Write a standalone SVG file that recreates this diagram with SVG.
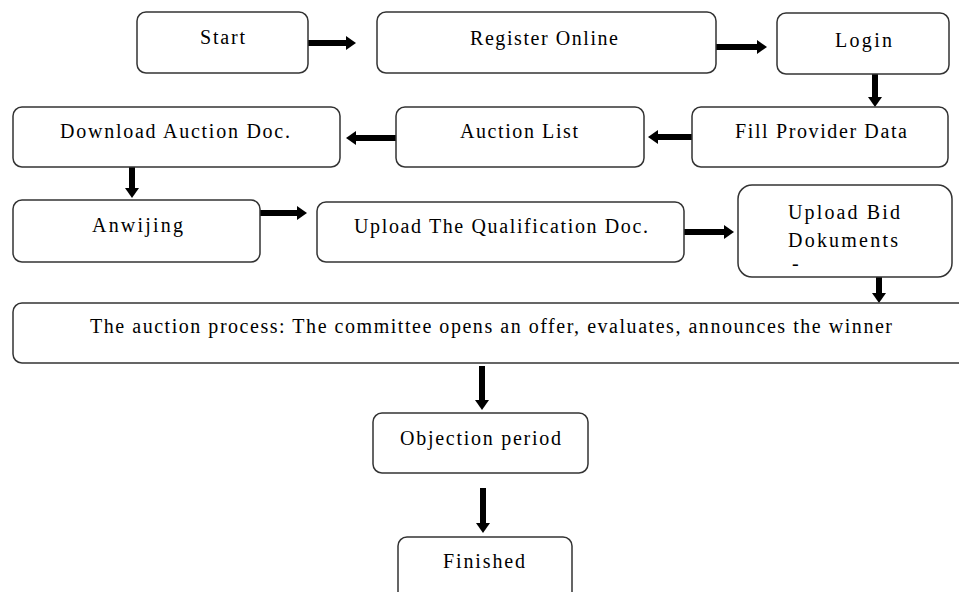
<svg xmlns="http://www.w3.org/2000/svg" width="959" height="592" viewBox="0 0 959 592">
<style>
.box{fill:#fff;stroke:#333;stroke-width:1.5}
.t{font-family:"Liberation Serif","Times New Roman",serif;font-size:20px;fill:#000}
.c line{stroke:#000;stroke-width:6}
</style>
<defs>
<marker id="ah" markerUnits="userSpaceOnUse" markerWidth="10" markerHeight="14" refX="0" refY="7" orient="auto">
<path d="M0,0 L10,7 L0,14 z" fill="#000"/>
</marker>
</defs>
<rect width="959" height="592" fill="#fff"/>
<g class="c" id="connectors">
<line x1="308" y1="43" x2="346" y2="43" marker-end="url(#ah)"/>
<line x1="716" y1="47" x2="757" y2="47" marker-end="url(#ah)"/>
<line x1="875" y1="74" x2="875" y2="97" marker-end="url(#ah)"/>
<line x1="692" y1="137" x2="658" y2="137" marker-end="url(#ah)"/>
<line x1="396" y1="138" x2="356" y2="138" marker-end="url(#ah)"/>
<line x1="132" y1="167" x2="132" y2="188" marker-end="url(#ah)"/>
<line x1="260" y1="213" x2="297" y2="213" marker-end="url(#ah)"/>
<line x1="684" y1="232" x2="724" y2="232" marker-end="url(#ah)"/>
<line x1="879" y1="277" x2="879" y2="293" marker-end="url(#ah)"/>
<line x1="482" y1="366" x2="482" y2="400" marker-end="url(#ah)"/>
<line x1="483" y1="488" x2="483" y2="523" marker-end="url(#ah)"/>
</g>
<g id="start"><rect class="box" x="137" y="12" width="171" height="61" rx="9"/><text class="t" x="200" y="44" textLength="45" lengthAdjust="spacing">Start</text></g>
<g id="register"><rect class="box" x="377" y="12" width="339" height="61" rx="9"/><text class="t" x="470" y="45" textLength="148" lengthAdjust="spacing">Register Online</text></g>
<g id="login"><rect class="box" x="777" y="13" width="172" height="61" rx="9"/><text class="t" x="835" y="47" textLength="57" lengthAdjust="spacing">Login</text></g>
<g id="fill"><rect class="box" x="692" y="107" width="256" height="60" rx="9"/><text class="t" x="735" y="138" textLength="172" lengthAdjust="spacing">Fill Provider Data</text></g>
<g id="auctionlist"><rect class="box" x="396" y="107" width="248" height="60" rx="9"/><text class="t" x="460" y="138" textLength="118" lengthAdjust="spacing">Auction List</text></g>
<g id="download"><rect class="box" x="13" y="107" width="327" height="60" rx="9"/><text class="t" x="60" y="138" textLength="230" lengthAdjust="spacing">Download Auction Doc.</text></g>
<g id="anwijing"><rect class="box" x="13" y="200" width="247" height="62" rx="9"/><text class="t" x="92" y="232" textLength="91" lengthAdjust="spacing">Anwijing</text></g>
<g id="qualification"><rect class="box" x="317" y="202" width="367" height="60" rx="9"/><text class="t" x="354" y="233" textLength="294" lengthAdjust="spacing">Upload The Qualification Doc.</text></g>
<g id="bid"><rect class="box" x="738" y="185" width="214" height="92" rx="14"/><text class="t" x="788" y="219" textLength="112" lengthAdjust="spacing">Upload Bid</text><text class="t" x="788" y="247" textLength="110" lengthAdjust="spacing">Dokuments</text><text class="t" x="792" y="270">-</text></g>
<g id="process"><rect class="box" x="13" y="303" width="960" height="60" rx="9"/><text class="t" x="90" y="333" textLength="802" lengthAdjust="spacing">The auction process: The committee opens an offer, evaluates, announces the winner</text></g>
<g id="objection"><rect class="box" x="373" y="413" width="215" height="60" rx="9"/><text class="t" x="400" y="445" textLength="161" lengthAdjust="spacing">Objection period</text></g>
<g id="finished"><rect class="box" x="398" y="537" width="174" height="70" rx="9"/><text class="t" x="443" y="568" textLength="82" lengthAdjust="spacing">Finished</text></g>
</svg>
